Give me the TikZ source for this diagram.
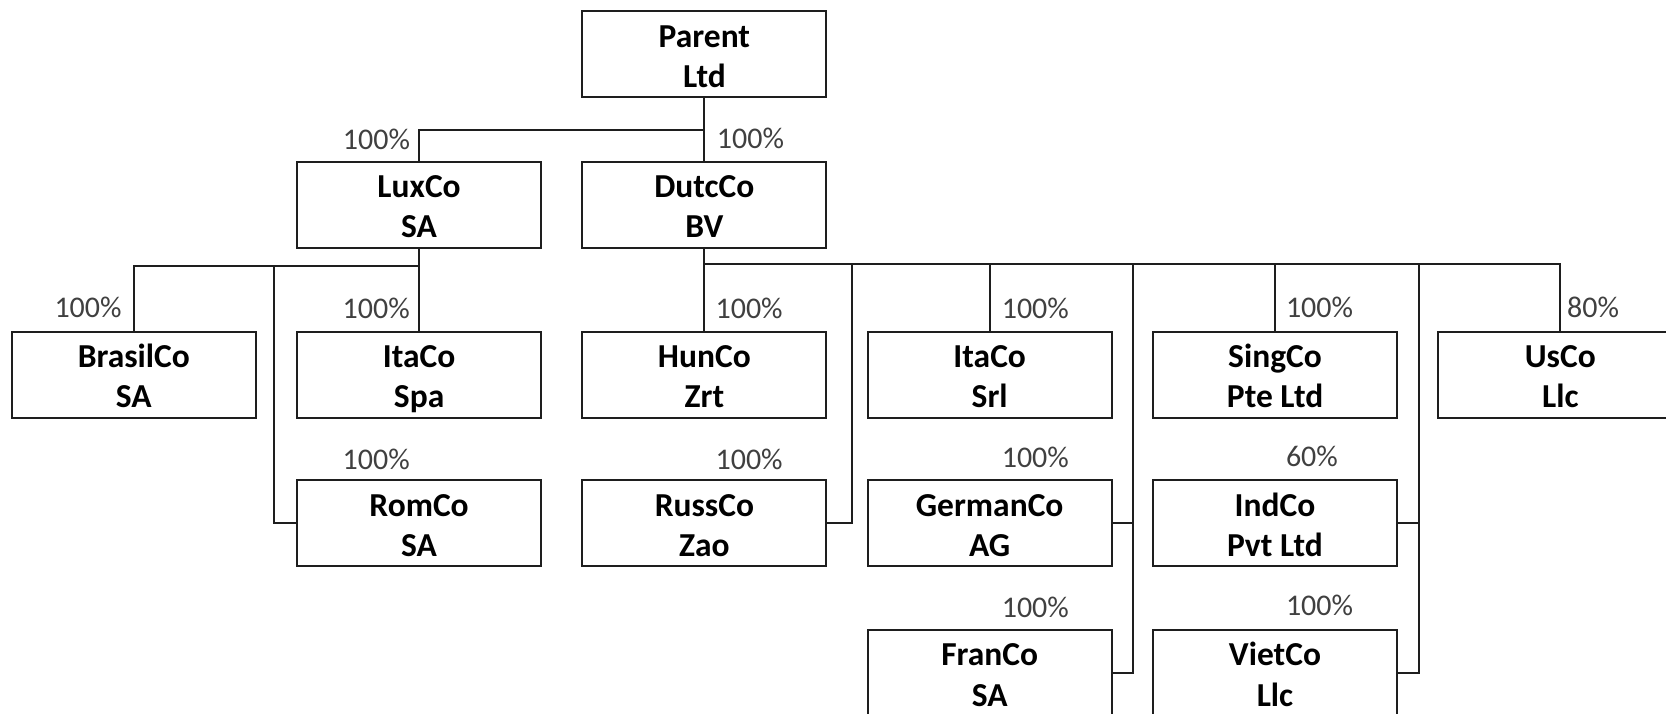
\documentclass[tikz,border=0pt]{standalone}
\usepackage{fontspec}
\setmainfont{Carlito}
\newcommand\twol[2]{\rule{0pt}{35.6pt}#1\\#2\rule[-10pt]{0pt}{0pt}}
\definecolor{pctgray}{HTML}{404040}
\definecolor{linecol}{HTML}{1E1E1E}
\begin{document}
\begin{tikzpicture}[x=1pt,y=-1pt,
  cobox/.style={draw=linecol, line width=2pt, minimum width=244pt, minimum height=86pt,
    inner sep=0pt, outer sep=0pt, align=center, fill=white,
    font=\bfseries\fontsize{33.5}{40.4}\selectfont},
  pct/.style={anchor=base west, inner sep=0pt, text=pctgray,
    font=\fontsize{30}{36}\selectfont},
  conn/.style={draw=linecol, line width=2pt}]
\useasboundingbox (0,0) rectangle (1666,714);
\clip (0,0) rectangle (1666,714);
\fill[white] (0,0) rectangle (1666,714);
% boxes
\node[cobox] (parent) at (704.4,54.5) {\twol{Parent}{Ltd}};
\node[cobox] (lux) at (419.1,204.7) {\twol{LuxCo}{SA}};
\node[cobox] (dutc) at (704.4,204.7) {\twol{DutcCo}{BV}};
\node[cobox] (brasil) at (133.8,374.5) {\twol{BrasilCo}{SA}};
\node[cobox] (itaspa) at (419.1,374.5) {\twol{ItaCo}{Spa}};
\node[cobox] (hun) at (704.4,374.5) {\twol{HunCo}{Zrt}};
\node[cobox] (itasrl) at (989.7,374.5) {\twol{ItaCo}{Srl}};
\node[cobox] (sing) at (1275,374.5) {\twol{SingCo}{Pte Ltd}};
\node[cobox] (usco) at (1560.3,374.5) {\twol{UsCo}{Llc}};
\node[cobox] (rom) at (419.1,523.4) {\twol{RomCo}{SA}};
\node[cobox] (russ) at (704.4,523.4) {\twol{RussCo}{Zao}};
\node[cobox] (german) at (989.7,523.4) {\twol{GermanCo}{AG}};
\node[cobox] (ind) at (1275,523.4) {\twol{IndCo}{Pvt Ltd}};
\node[cobox] (fran) at (989.7,673) {\twol{FranCo}{SA}};
\node[cobox] (viet) at (1275,673) {\twol{VietCo}{Llc}};
% bus coordinates
\coordinate (pbus) at (704.4,130);
\coordinate (lbus) at (419.1,266.5);
\coordinate (romx) at (274.3,266.5);
\coordinate (dbus) at (704.4,264);
\coordinate (russx) at (852,264);
\coordinate (germx) at (1133,264);
\coordinate (indx) at (1419,264);
% connectors
\draw[conn] (parent.south) -- (dutc.north);
\draw[conn] (pbus) -| (lux.north);
\draw[conn] (lux.south) -- (itaspa.north);
\draw[conn] (lbus) -| (brasil.north);
\draw[conn] (romx) |- (rom.west);
\draw[conn] (dutc.south) -- (hun.north);
\draw[conn] (dbus) -| (usco.north);
\draw[conn] (itasrl.north) -- (itasrl.north |- dbus);
\draw[conn] (sing.north) -- (sing.north |- dbus);
\draw[conn] (russx) |- (russ.east);
\draw[conn] (germx) |- (fran.east);
\draw[conn] (german.east) -- (german.east -| germx);
\draw[conn] (indx) |- (viet.east);
\draw[conn] (ind.east) -- (ind.east -| indx);
% percentages
\node[pct] (pLux) at (342.7,150) {100\%};
\node[pct] (pDutc) at (716.7,148.3) {100\%};
\node[pct] (pBrasil) at (54.3,317.5) {100\%};
\node[pct] (pItaSpa) at (342.5,318.5) {100\%};
\node[pct] (pHun) at (715.4,318) {100\%};
\node[pct] (pItaSrl) at (1001.6,318.5) {100\%};
\node[pct] (pSing) at (1285.8,317) {100\%};
\node[pct] (pUs) at (1567,317) {80\%};
\node[pct] (pRom) at (342.5,469) {100\%};
\node[pct] (pRuss) at (715.4,469) {100\%};
\node[pct] (pGerman) at (1001.6,467.5) {100\%};
\node[pct] (pInd) at (1285.8,466.5) {60\%};
\node[pct] (pFran) at (1001.6,617) {100\%};
\node[pct] (pViet) at (1285.8,615.5) {100\%};
\end{tikzpicture}
\end{document}
